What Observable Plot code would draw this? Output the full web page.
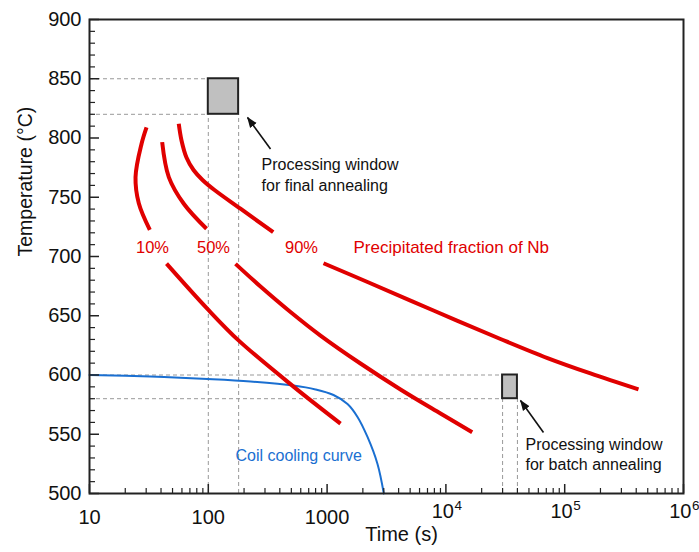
<!DOCTYPE html>
<html><head><meta charset="utf-8">
<script src="https://cdn.jsdelivr.net/npm/d3@7"></script>
<script src="https://cdn.jsdelivr.net/npm/@observablehq/plot@0.6"></script>
<style>body{margin:0;background:#fff}</style>
</head><body><div id="chart"></div>
<script>
// ---- data ----
const xMajorTicks = [10, 100, 1000, 1e4, 1e5, 1e6];
const xMinorTicks = [10, 100, 1000, 1e4, 1e5].flatMap(d => [2,3,4,5,6,7,8,9].map(k => k * d));
const yMajorTicks = [500, 550, 600, 650, 700, 750, 800, 850, 900];
const yMinorTicks = d3.range(510, 900, 10).filter(v => v % 50 !== 0);

// precipitation curves (time s, temperature °C), split where labels break them
const frac10UpperTime = [30.2, 27.4, 24.4, 26.0, 32.2];
const frac10UpperTemp = [809, 795, 767, 745, 722.5];
const frac10LowerTime = [44.5, 97.9, 180.6, 524.5, 1297];
const frac10LowerTemp = [694, 656, 629, 590, 559];
const frac50UpperTime = [40.9, 46.5, 62.2, 96.6];
const frac50UpperTemp = [796.5, 767, 744.5, 723.4];
const frac50LowerTime = [169.4, 275, 491.8, 879.8, 1910, 4148, 9006, 16650];
const frac50LowerTemp = [693.8, 674.7, 653.2, 633.3, 609.7, 587.8, 567.5, 551.7];
const frac90UpperTime = [56.4, 59.5, 65.5, 75.1, 89.4, 112.8, 186.6, 351.8];
const frac90UpperTemp = [812, 797.9, 783.5, 773, 764.6, 756.1, 740.3, 720.5];
const frac90LowerTime = [932.7, 2188, 7863, 28810, 71650, 164900, 418000];
const frac90LowerTemp = [694.3, 678.5, 654.4, 630.4, 614.3, 601.3, 587.8];

// coil cooling curve
const coolTime = [10, 32.6, 98.5, 226.6, 521.5, 798.7, 1132, 1485, 1803, 2188, 2656, 3001];
const coolTemp = [600, 598.7, 596.6, 594.5, 591.1, 587.8, 583.1, 575.5, 564.6, 547.7, 524.9, 500];

// processing windows
const windowTimeStart = [100, 30000];
const windowTimeEnd = [180, 40000];
const windowTempLow = [820, 580];
const windowTempHigh = [850, 600];

// labels
const fracLabels = ["10%", "50%", "90%"];
const fracLabelTime = [33.9, 110.6, 609];
const fracLabelTemp = [707.6, 707.6, 707.6];

// arrows (tail -> tip)
const arrowTailTime = [334, 66300];
const arrowTailTemp = [790.7, 551.5];
const arrowTipTime = [214, 42460];
const arrowTipTemp = [817.3, 578.5];

// ---- build ----
const W = 699, H = 552, ML = 89, MR = 16, MT = 19, MB = 59;
const FW = W - ML - MR, FH = H - MT - MB;
const RED = "#e00000", BLUE = "#1a6fd1";

const segs = [
  ["10a", frac10UpperTime, frac10UpperTemp], ["10b", frac10LowerTime, frac10LowerTemp],
  ["50a", frac50UpperTime, frac50UpperTemp], ["50b", frac50LowerTime, frac50LowerTemp],
  ["90a", frac90UpperTime, frac90UpperTemp], ["90b", frac90LowerTime, frac90LowerTemp]
];
const fracData = segs.flatMap(([id, ts, Ts]) => ts.map((t, i) => ({seg: id, t, T: Ts[i]})));
const coolData = coolTime.map((t, i) => ({t, T: coolTemp[i]}));
const windows = windowTimeStart.map((t1, i) => ({t1, t2: windowTimeEnd[i], T1: windowTempLow[i], T2: windowTempHigh[i]}));
const hGuides = windows.flatMap(w => [{T: w.T1, t2: w.t1}, {T: w.T2, t2: w.t1}]);
const vGuides = windows.flatMap(w => [{t: w.t1, T2: w.T1}, {t: w.t2, T2: w.T1}]);
const labelData = fracLabels.map((s, i) => ({s, t: fracLabelTime[i], T: fracLabelTemp[i]}));
const arrows = arrowTailTime.map((t, i) => ({t1: t, T1: arrowTailTemp[i], t2: arrowTipTime[i], T2: arrowTipTemp[i]}));

const smallX = xMajorTicks.filter(d => d < 1e4);
const powX = xMajorTicks.filter(d => d >= 1e4);

function filledArrow(color) {
  const m = d3.create("svg:marker")
    .attr("viewBox", "-6 -5 12 10")
    .attr("markerWidth", 11).attr("markerHeight", 9)
    .attr("markerUnits", "userSpaceOnUse")
    .attr("orient", "auto")
    .attr("refX", 5).attr("refY", 0)
    .attr("fill", "#111").attr("stroke", "none");
  m.append("path").attr("d", "M-6,-4.5L6,0L-6,4.5Z");
  return m.node();
}

const dash = {stroke: "#999", strokeWidth: 1, strokeDasharray: "4,3"};

const chart = Plot.plot({
  width: W, height: H,
  marginLeft: ML, marginRight: MR, marginTop: MT, marginBottom: MB,
  style: {fontFamily: "'Liberation Sans', Arial, Helvetica, sans-serif", fontSize: "20px", color: "#111", background: "#fff"},
  x: {type: "log", domain: [10, 1e6], label: null},
  y: {domain: [500, 900], label: null},
  marks: [
    Plot.ruleY(hGuides, {y: "T", x1: 10, x2: "t2", ...dash}),
    Plot.ruleX(vGuides, {x: "t", y1: 500, y2: "T2", ...dash}),
    Plot.rect(windows, {x1: "t1", x2: "t2", y1: "T1", y2: "T2", fill: "#c0c0c0", stroke: "#222", strokeWidth: 2}),
    Plot.line(coolData, {x: "t", y: "T", stroke: BLUE, strokeWidth: 2, curve: "catmull-rom"}),
    Plot.line(fracData, {x: "t", y: "T", z: "seg", stroke: RED, strokeWidth: 4, strokeLinecap: "butt", curve: "catmull-rom"}),
    Plot.link(arrows, {x1: "t1", y1: "T1", x2: "t2", y2: "T2", stroke: "#111", strokeWidth: 1.6, markerEnd: filledArrow}),
    Plot.text(labelData, {x: "t", y: "T", text: "s", fill: RED, fontSize: 16.5}),
    Plot.text(["Precipitated fraction of Nb"], {x: 1667, y: 707.6, textAnchor: "start", fill: RED, fontSize: 17}),
    Plot.text(["Coil cooling curve"], {x: 169.4, y: 532.1, textAnchor: "start", fill: BLUE, fontSize: 16}),
    Plot.text(["Processing window\nfor final annealing"], {x: 281, y: 769.6, textAnchor: "start", fill: "#111", fontSize: 16, lineHeight: 1.3}),
    Plot.text(["Processing window\nfor batch annealing"], {x: 46770, y: 533.3, textAnchor: "start", fill: "#111", fontSize: 16, lineHeight: 1.25}),
    // inward ticks
    Plot.tickY(yMajorTicks, {y: d => d, insetRight: FW - 10, stroke: "#222", strokeWidth: 1.5}),
    Plot.tickY(yMinorTicks, {y: d => d, insetRight: FW - 6, stroke: "#222", strokeWidth: 1.2}),
    Plot.tickX(xMajorTicks, {x: d => d, insetTop: FH - 9, stroke: "#222", strokeWidth: 1.5}),
    Plot.tickX(xMinorTicks, {x: d => d, insetTop: FH - 5, stroke: "#222", strokeWidth: 1.2}),
    Plot.axisY({ticks: yMajorTicks, tickSize: 0, tickPadding: 8, fontSize: 20}),
    Plot.axisX({ticks: smallX, tickSize: 0, tickPadding: 16, tickFormat: d => String(d), fontSize: 20}),
    // power-of-ten labels with superscript exponent
    Plot.text(powX, {x: d => d, frameAnchor: "bottom", dy: 24, dx: 8, text: () => "10", textAnchor: "end", fontSize: 20, fill: "#111"}),
    Plot.text(powX, {x: d => d, frameAnchor: "bottom", dy: 16, dx: 8.5, text: d => String(Math.round(Math.log10(d))), textAnchor: "start", fontSize: 13.5, fill: "#111"}),
    Plot.frame({stroke: "#222", strokeWidth: 2}),
    Plot.text(["Temperature (\u00B0C)"], {frameAnchor: "left", dx: -64, rotate: -90, fontSize: 19.5, fill: "#111"}),
    Plot.text(["Time (s)"], {frameAnchor: "bottom", dy: 47, dx: 15, fontSize: 20, fill: "#111"})
  ]
});
document.getElementById("chart").append(chart);
</script>
</body></html>
